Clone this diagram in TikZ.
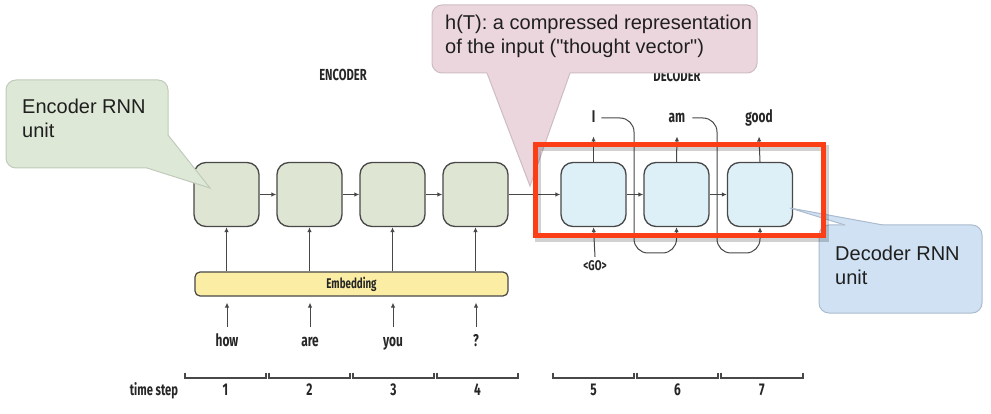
\documentclass[tikz,border=0pt]{standalone}
\usepackage{fontspec}
\setmainfont{Liberation Sans}
\newfontfamily\condfont[FakeStretch=0.7]{Fira Sans}
\usetikzlibrary{arrows.meta}
\definecolor{encfill}{RGB}{222,229,211}
\definecolor{decfill}{RGB}{221,240,248}
\definecolor{embfill}{RGB}{251,238,164}
\definecolor{cellline}{RGB}{72,72,72}
\definecolor{greenfill}{RGB}{221,233,214}
\definecolor{greenline}{RGB}{192,202,186}
\definecolor{pinkfill}{RGB}{236,214,222}
\definecolor{pinkline}{RGB}{206,188,196}
\definecolor{bluefill}{RGB}{207,225,242}
\definecolor{blueline}{RGB}{172,188,208}
\definecolor{redbox}{RGB}{252,62,22}
\begin{document}
\begin{tikzpicture}[x=1pt,y=-1pt,
  cell/.style={draw=cellline, line width=1.3pt, rounded corners=12pt, minimum width=65pt, minimum height=64pt, inner sep=0pt},
  enccell/.style={cell, fill=encfill},
  deccell/.style={cell, fill=decfill},
  embbox/.style={draw=cellline, line width=1.2pt, fill=embfill, rounded corners=5pt, minimum width=313pt, minimum height=24pt, inner sep=0pt, font=\condfont\bfseries\fontsize{14}{14}\selectfont, text=black!85},
  arr/.style={draw=cellline, line width=1pt, -{Latex[length=5pt,width=4.5pt]}},
  lbl/.style={font=\condfont\bfseries\fontsize{17}{17}\selectfont, text=black!85, inner sep=0pt, text height=12pt, text depth=3.5pt},
  smalllbl/.style={font=\condfont\bfseries\fontsize{14}{14}\selectfont, text=black!85, inner sep=0pt, text height=10pt, text depth=2pt},
  headlbl/.style={font=\condfont\bfseries\fontsize{16}{16}\selectfont, text=black!85, inner sep=0pt},
  tick/.style={draw=cellline, line width=1.2pt},
  ctext/.style={font=\fontsize{20}{24}\selectfont, align=left, anchor=north west, inner sep=0pt, text=black!88},
  cbox/.style={line width=1pt, rounded corners=10pt}
]
\useasboundingbox (0,0) rectangle (991,414);
\fill[white] (0,0) rectangle (991,414);

% headings
\node[headlbl] (enchead) at (343,75) {ENCODER};
\node[headlbl] (dechead) at (677,76) {DECODER};

% encoder cells
\node[enccell] (e1) at (226.5,194.5) {};
\node[enccell] (e2) at (309.5,194.5) {};
\node[enccell] (e3) at (392.5,194.5) {};
\node[enccell] (e4) at (475.5,194.5) {};
% decoder cells
\node[deccell] (d1) at (593.5,194.5) {};
\node[deccell] (d2) at (676.5,194.5) {};
\node[deccell] (d3) at (760,194.5) {};

\draw[arr] (e1) -- (e2);
\draw[arr] (e2) -- (e3);
\draw[arr] (e3) -- (e4);
\draw[arr] (e4) -- (d1);
\draw[arr] (d1) -- (d2);
\draw[arr] (d2) -- (d3);

% embedding
\node[embbox] (emb) at (351.5,284) {Embedding};
\foreach \i in {1,...,4}{
  \draw[arr] (e\i.south |- emb.north) -- (e\i.south);
}

% input words
\node[lbl] (w1) at (227,342) {how};
\node[lbl] (w2) at (310,342) {are};
\node[lbl] (w3) at (393,342) {you};
\node[lbl] (w4) at (476,342) {?};
\foreach \i in {1,...,4}{
  \draw[arr, shorten >=6pt] ([yshift=7pt]w\i.north) -- (w\i.north |- emb.south);
}

% decoder outputs
\node[lbl] (o1) at (593.5,118) {I};
\node[lbl] (o2) at (677,118) {am};
\node[lbl] (o3) at (759,118) {good};
\draw[arr] (d1.north) -- ([yshift=-10.5pt]o1.south);
\draw[arr] (d2.north) -- ([yshift=-10.5pt]o2.south);
\draw[arr] (d3.north) -- ([yshift=-10.5pt]o3.south);
\draw[arr, rounded corners=14pt] ([xshift=6pt]o1.east) -- (634,118) -- (634,253) -- (676.5,253) -- (d2.south);
\draw[arr, rounded corners=14pt] ([xshift=7pt]o2.east) -- (717,118) -- (717,253) -- (760,253) -- (d3.south);

% GO
\node[smalllbl] (go) at (595,267) {<GO>};
\draw[arr] ([yshift=4pt]go.north) -- (d1.south);

% time steps
\node[lbl, font=\condfont\bfseries\fontsize{16}{16}\selectfont] (ts) at (154,391) {time step};
\foreach \a/\b/\n in {185/266/1, 269/350/2, 353/434/3, 437/518/4, 553/634/5, 637/718/6, 721/803/7}{
  \draw[tick] (\a,372.5) -- (\a,378) -- (\b,378) -- (\b,372.5);
  \node[lbl] (n\n) at ({(\a+\b)/2},391) {\n};
}

% green callout
\fill[greenfill] (6,80) [rounded corners=10pt] rectangle (168,168);
\draw[greenline, cbox] (6,80) rectangle (168,168);
\fill[greenfill] (147,168) -- (210,188) -- (168,135) -- (150,140) -- cycle;
\draw[greenline, line width=1pt] (147,168) -- (210,188) -- (168,135);
\node[ctext] (gtext) at (22,99) {Encoder RNN\\unit};

% blue callout
\fill[bluefill, rounded corners=10pt] (819,225) rectangle (982,313);
\draw[blueline, cbox] (819,225) rectangle (982,313);
\fill[bluefill] (845,225) -- (790,208) -- (883,225) -- (883,230) -- (845,230) -- cycle;
\draw[blueline, line width=1pt] (845,225) -- (790,208) -- (883,225);
\node[ctext] (btext) at (835,246) {Decoder RNN\\unit};

% pink callout
\fill[pinkfill, rounded corners=10pt] (432,5) rectangle (757,73);
\draw[pinkline, cbox] (432,5) rectangle (757,73);
\fill[pinkfill] (487,73) -- (530,186) -- (570,73) -- (570,67) -- (487,67) -- cycle;
\draw[pinkline, line width=1pt] (487,73) -- (530,186) -- (570,73);
\node[ctext] (ptext) at (445,15) {h(T): a compressed representation\\of the input (\textquotedbl thought vector\textquotedbl)};

% red highlight box
\draw[black, opacity=0.18, line width=6pt] (537.5,148) rectangle (825.5,239);
\draw[redbox, line width=5pt] (535,145) rectangle (823,236);
\end{tikzpicture}
\end{document}
